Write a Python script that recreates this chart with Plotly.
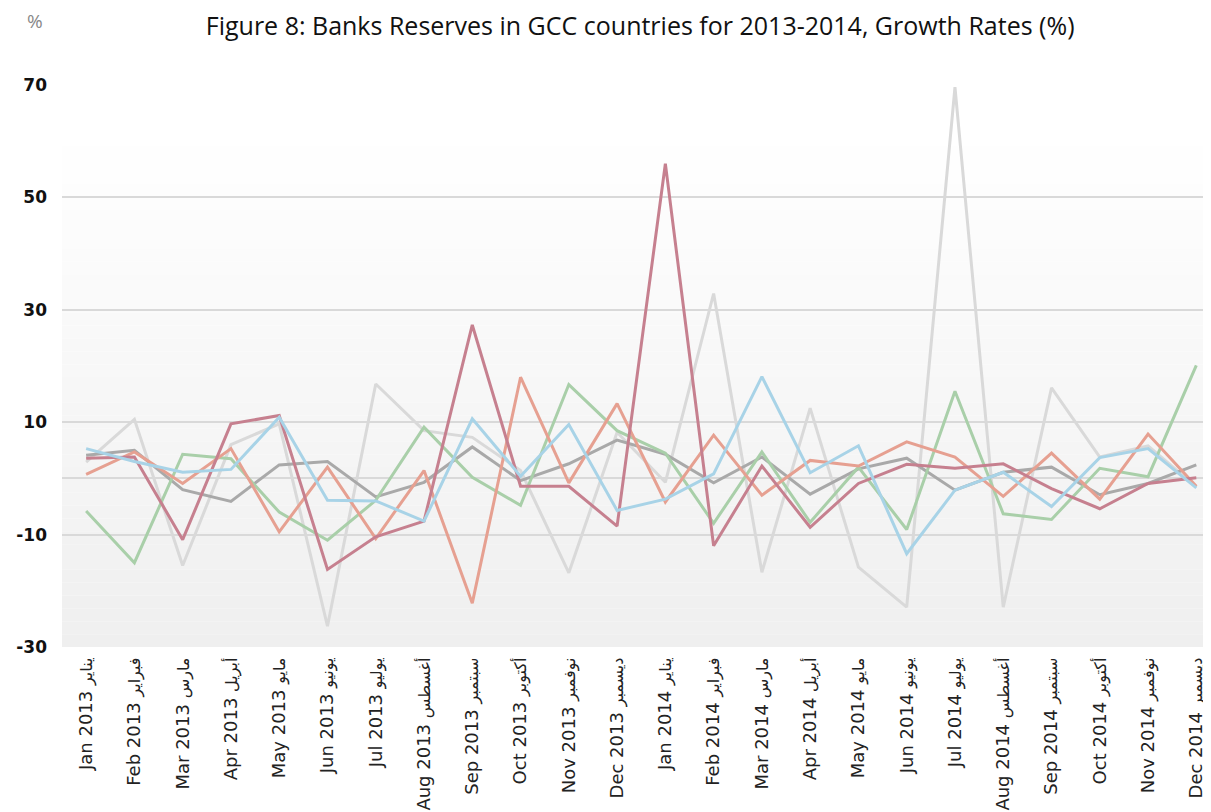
import plotly.graph_objects as go

months_en = ["Jan 2013", "Feb 2013", "Mar 2013", "Apr 2013", "May 2013", "Jun 2013",
             "Jul 2013", "Aug 2013", "Sep 2013", "Oct 2013", "Nov 2013", "Dec 2013",
             "Jan 2014", "Feb 2014", "Mar 2014", "Apr 2014", "May 2014", "Jun 2014",
             "Jul 2014", "Aug 2014", "Sep 2014", "Oct 2014", "Nov 2014", "Dec 2014"]
months_ar = ["يناير", "فبراير", "مارس", "أبريل", "مايو", "يونيو",
             "يوليو", "أغسطس", "سبتمبر", "أكتوبر", "نوفمبر", "ديسمبر"] * 2

series_light_gray = [2.9, 10.5, -15.5, 6.0, 9.7, -26.3, 16.8, 8.5, 7.3, 1.4, -16.8, 8.2,
                     -0.7, 32.9, -16.7, 12.5, -15.8, -22.9, 69.6, -22.9, 16.1, 3.8, 5.8, -1.5]
series_dark_gray = [4.1, 5.0, -2.0, -4.1, 2.4, 3.0, -3.3, -0.7, 5.6, -0.4, 2.6, 6.8,
                    4.3, -0.8, 3.8, -2.8, 1.7, 3.6, -2.1, 1.1, 2.0, -2.9, -0.9, 2.4]
series_green = [-5.8, -15.0, 4.3, 3.5, -6.0, -11.0, -3.9, 9.1, 0.2, -4.8, 16.7, 8.5,
                4.5, -8.0, 4.7, -7.8, 2.0, -9.1, 15.5, -6.3, -7.3, 1.8, 0.3, 20.1]
series_salmon = [0.7, 4.7, -0.9, 5.3, -9.5, 2.0, -10.7, 1.4, -22.2, 18.0, -0.8, 13.3,
                 -4.2, 7.7, -3.0, 3.2, 2.2, 6.5, 3.8, -3.2, 4.5, -3.7, 7.9, -1.4]
series_mauve = [3.6, 3.8, -10.9, 9.7, 11.2, -16.2, -10.4, -7.6, 27.3, -1.4, -1.4, -8.5,
                56.0, -12.0, 2.2, -8.7, -0.9, 2.5, 1.8, 2.6, -1.8, -5.4, -0.9, 0.1]
series_blue = [5.3, 3.0, 1.1, 1.6, 10.9, -3.9, -4.0, -7.6, 10.6, 0.4, 9.6, -5.7,
               -3.7, 0.8, 18.1, 1.0, 5.8, -13.4, -2.1, 1.1, -5.0, 3.7, 5.3, -1.7]

y_ticks = [70, 50, 30, 10, -10, -30]
y_tick_labels = ["70", "50", "30", "10", "-10", "-30"]

series = [
    ("Series 1", series_light_gray, "#d9d9d9"),
    ("Series 2", series_dark_gray, "#a9a9a9"),
    ("Series 3", series_green, "#a9cfa9"),
    ("Series 4", series_salmon, "#e6a091"),
    ("Series 5", series_mauve, "#c6808f"),
    ("Series 6", series_blue, "#a8d3e7"),
]

tick_text = [f"{e} <span style='font-size:16px'>{a}</span>" for e, a in zip(months_en, months_ar)]

fig = go.Figure()
for name, vals, col in series:
    fig.add_trace(go.Scatter(x=months_en, y=vals, mode="lines", name=name,
                             line=dict(color=col, width=3), showlegend=False))

# gradient background bands (styling)
shapes = []
n = 40
top_v, bot_v = 61.5, -30
for k in range(n):
    v0 = top_v - (top_v - bot_v) * k / n
    v1 = top_v - (top_v - bot_v) * (k + 1) / n
    g = round(255 - (255 - 239) * (k + 0.5) / n)
    shapes.append(dict(type="rect", xref="paper", yref="y", x0=0, x1=1, y0=v1, y1=v0,
                       fillcolor=f"rgb({g},{g},{g})", line=dict(width=0), layer="below"))

fig.update_layout(
    width=1211, height=812,
    margin=dict(l=54, r=0, t=77, b=173),
    paper_bgcolor="white", plot_bgcolor="white",
    shapes=shapes,
    title=dict(text="Figure 8: Banks Reserves in GCC countries for 2013-2014, Growth Rates (%)",
               x=0.522, xanchor="center", y=0.978, yanchor="middle",
               font=dict(family="Open Sans", size=25, color="#111111")),
    annotations=[dict(text="%", xref="paper", yref="paper", x=-0.0233, y=1.113,
                      xanchor="center", yanchor="middle", showarrow=False,
                      font=dict(family="Open Sans", size=19, color="#888888"))],
    xaxis=dict(type="category", range=[-0.5, 23.47], tickangle=-90, automargin=False,
               tickvals=months_en, ticktext=tick_text,
               tickfont=dict(family="DejaVu Sans", size=18, color="#222222"),
               showgrid=False, showline=False, ticks="", ticklabelstandoff=6),
    yaxis=dict(range=[-30, 70], tickvals=y_ticks, ticktext=y_tick_labels, automargin=False,
               tickfont=dict(family="DejaVu Sans", size=17, color="#111111", weight="bold"),
               showgrid=True, gridcolor="#d9d9d9", gridwidth=1.5,
               zeroline=True, zerolinecolor="#d9d9d9", zerolinewidth=1.5,
               showline=False, ticks="", ticklabelstandoff=14),
)

fig.write_html("out.html")
